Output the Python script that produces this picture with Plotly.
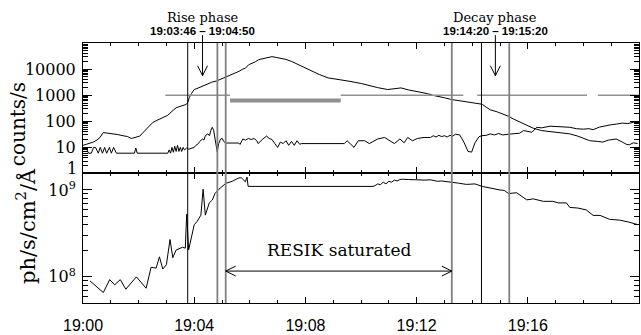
import plotly.graph_objects as go
from plotly.subplots import make_subplots

# ---------------------------------------------------------------
# Light curves, time in minutes after 19:00 UT
# ---------------------------------------------------------------

# Upper detector channel (counts/s)
t_high = [0.0, 0.2, 0.37, 0.5, 0.61, 0.73, 0.85, 1.0, 1.1, 1.25, 1.44, 1.6, 1.74,
          1.9, 2.04, 2.15, 2.27, 2.4, 2.51, 2.63, 2.75, 2.9, 3.05, 3.2, 3.35, 3.45,
          3.55, 3.7, 3.77, 3.82, 3.9, 4.0, 4.1, 4.2, 4.29, 4.4, 4.55, 4.65, 4.8,
          4.9, 5.01, 5.2, 5.37, 5.5, 5.61, 5.75, 5.85, 5.96, 6.1, 6.2, 6.32, 6.45,
          6.6, 6.8, 6.95, 7.15, 7.3, 7.51, 7.7, 7.87, 8.0, 8.22, 8.5, 8.82, 9.05,
          9.3, 9.6, 10.01, 10.3, 10.6, 10.96, 11.2, 11.44, 11.7, 11.92, 12.2,
          12.39, 12.6, 12.75, 13.0, 13.23, 13.5, 13.94, 14.2, 14.36, 14.5, 14.65,
          14.9, 15.1, 15.31, 15.5, 15.73, 16.0, 16.2, 16.5, 16.8, 17.1, 17.51,
          17.8, 18.0, 18.23, 18.5, 18.7, 18.9, 19.18, 19.4, 19.55, 19.65, 19.8, 19.95]
counts_high = [12, 14, 16, 19, 24, 37, 36, 35, 33, 31, 28, 26, 22,
               24, 27, 36, 50, 70, 90, 105, 120, 140, 170, 240, 330, 360,
               390, 440, 520, 800, 1150, 1650, 1800, 2000, 2200, 2500, 2900, 3200, 3500,
               3900, 4400, 5300, 6200, 7000, 8200, 10000, 11000, 14700, 17000, 19000, 23000, 25000,
               26000, 30000, 28000, 26000, 23500, 19500, 15500, 12600, 11000, 8100, 6200, 4600, 4200,
               4000, 3400, 2800, 2300, 1950, 1650, 1800, 1900, 1600, 1450, 1250,
               1150, 980, 930, 800, 690, 620, 550, 490, 450, 350, 275,
               230, 190, 155, 120, 91, 68, 54, 44, 40, 37, 33,
               27, 22, 18, 17, 16, 19, 21, 16, 13, 12.6, 15, 14]

# Lower detector channel (counts/s)
t_low = [0.0, 0.1, 0.2, 0.3, 0.38, 0.45, 0.55, 0.62, 0.7, 0.78, 0.85, 0.95, 1.02,
         1.1, 1.2, 1.85, 1.9, 1.95, 3.05, 3.1, 3.15, 3.2, 3.25, 3.3, 3.35, 3.4,
         3.45, 3.5, 3.55, 3.6, 3.65, 3.73, 3.8, 3.9, 4.0, 4.06, 4.15, 4.2, 4.3,
         4.35, 4.4, 4.49, 4.55, 4.6, 4.65, 4.7, 4.75, 4.8, 4.83, 4.88, 4.95, 5.01,
         5.06, 5.13, 5.6, 5.65, 5.75, 5.85, 5.95, 6.05, 6.15, 6.25, 6.3, 6.45, 6.6,
         6.7, 6.8, 6.9, 7.0, 7.1, 7.2, 7.3, 7.4, 7.5, 7.6, 7.7, 7.8, 7.85, 8.52,
         9.4, 9.5, 9.75, 9.9, 10.13, 10.3, 10.6, 10.85, 11.2, 11.4, 11.55, 11.68,
         11.85, 12.03, 12.27, 12.5, 12.6, 12.7, 12.8, 12.9, 13.0, 13.1, 13.2, 13.3,
         13.4, 13.55, 13.7, 13.85, 13.98, 14.1, 14.25, 14.35, 14.5, 14.65, 14.8,
         14.95, 15.1, 15.31, 15.5, 15.7, 15.85, 16.0, 16.15, 16.32, 16.5, 16.8,
         17.1, 17.3, 17.51, 17.75, 17.99, 18.2, 18.35, 18.58, 18.8, 19.0, 19.18,
         19.4, 19.6, 19.8, 19.95]
counts_low = [9, 10, 6, 6, 10, 10, 6, 10, 6, 10, 6, 10, 6,
              10, 6, 6, 9.5, 6, 6, 8, 6, 10, 6.5, 11, 7, 12,
              7, 10, 7, 10, 8, 9.5, 8.5, 9, 10, 12, 14, 17, 21,
              19, 28, 33, 28, 45, 59, 45, 21, 9, 6.6, 14, 21, 22,
              17, 14.7, 14.7, 13, 21, 19, 22, 20, 22, 18, 14, 20, 27,
              22, 20, 14, 10, 16, 14, 18, 12, 17, 12, 18, 13, 14, 14,
              14, 18, 10, 18, 18, 14, 21, 24, 14, 21, 15, 24,
              18, 22, 24, 24, 28, 25, 29, 26, 28, 25, 29, 27,
              32, 30, 16, 7, 6.6, 15, 26, 28, 29, 33, 30,
              34, 30, 32, 33, 35, 44, 40, 38, 59, 56, 65,
              62, 60, 59, 52, 50, 52, 48, 60, 68, 74, 78,
              85, 82, 92, 90]

# Spectrometer flux (ph/s/cm^2/A)
t_flux = [0.25, 0.73, 0.96, 1.14, 1.34, 1.54, 1.92, 2.27, 2.45, 2.63, 2.75, 2.87,
          3.0, 3.13, 3.23, 3.35, 3.58, 3.68, 3.73, 3.8, 4.0, 4.11, 4.24, 4.32, 4.4,
          4.54, 4.65, 4.75, 4.89, 5.0, 5.13, 5.37, 5.61, 5.7, 5.84, 5.9, 5.94,
          10.43, 10.5, 10.6, 10.7, 10.8, 10.9, 11.0, 11.1, 11.2, 11.3, 11.4, 11.5,
          11.7, 11.9, 12.1, 12.3, 12.5, 12.75, 12.9, 13.2, 13.5, 13.79, 14.1, 14.36,
          14.55, 14.77, 15.0, 15.15, 15.31, 15.6, 15.96, 16.2, 16.56, 16.9, 17.1,
          17.39, 17.51, 17.8, 18.1, 18.35, 18.6, 18.94, 19.3, 19.6, 19.95]
flux = [9.0e7, 6.6e7, 9.3e7, 8.1e7, 9.3e7, 7.2e7, 1.0e8, 7.4e7, 1.29e8, 1.26e8, 1.70e8, 1.23e8,
        1.38e8, 2.69e8, 1.66e8, 2.04e8, 2.19e8, 2.14e8, 5.25e8, 2.04e8, 3.98e8, 4.37e8, 5.13e8, 1.02e9, 5.13e8,
        7.08e8, 7.67e8, 9.12e8, 1.02e9, 1.10e9, 1.19e9, 1.26e9, 1.38e9, 1.38e9, 1.245e9, 1.41e9, 1.10e9,
        1.10e9, 1.12e9, 1.175e9, 1.15e9, 1.23e9, 1.175e9, 1.26e9, 1.23e9, 1.30e9, 1.27e9, 1.32e9, 1.33e9,
        1.32e9, 1.31e9, 1.32e9, 1.30e9, 1.31e9, 1.26e9, 1.27e9, 1.245e9, 1.20e9, 1.16e9, 1.175e9, 1.10e9,
        1.07e9, 1.02e9, 1.0e9, 9.9e8, 9.1e8, 9.3e8, 7.7e8, 7.9e8, 7.4e8, 7.4e8, 7.1e8,
        7.1e8, 6.3e8, 6.2e8, 5.9e8, 5.1e8, 5.1e8, 4.6e8, 4.5e8, 4.3e8, 4.0e8]

# Data-coverage bars drawn in the upper panel
cover_thin_t = [2.96, 5.29, None, 9.27, 13.68, None, 14.18, 18.13, None, 18.52, 20.0]
cover_thin_v = [1000, 1000, None, 1000, 1000, None, 1000, 1000, None, 1000, 1000]
cover_thick_t = [5.29, 9.27]
cover_thick_v = [620, 620]

# Interval boundaries
rise_start, rise_end = "19:03:46", "19:04:50"
sat_start, sat_end = "19:05:08", "19:13:16"
decay_start, decay_end = "19:14:20", "19:15:20"

# Axis labels
x_tickvals = [0, 4, 8, 12, 16]
x_ticktext = ["19:00", "19:04", "19:08", "19:12", "19:16"]
y1_tickvals = [1, 10, 100, 1000, 10000]
y1_ticktext = ["1", "10", "100", "1000", "10000"]
y2_tickvals = [1e8, 1e9]
y2_ticktext = ["10<sup>8</sup>", "10<sup>9</sup>"]


def minutes(hms):
    h, m, s = (int(p) for p in hms.split(":"))
    return (h - 19) * 60 + m + s / 60.0


SERIF = "DejaVu Serif"
SANS = "Liberation Sans"
GRAY = "#808080"

fig = make_subplots(rows=2, cols=1, shared_xaxes=True, vertical_spacing=0,
                    row_heights=[132, 131])

line_kw = dict(color="black", width=1)
fig.add_trace(go.Scatter(x=t_high, y=counts_high, mode="lines", line=line_kw), row=1, col=1)
fig.add_trace(go.Scatter(x=t_low, y=counts_low, mode="lines", line=line_kw), row=1, col=1)
fig.add_trace(go.Scatter(x=cover_thin_t, y=cover_thin_v, mode="lines",
                         line=dict(color="#909090", width=1.5), connectgaps=False), row=1, col=1)
fig.add_trace(go.Scatter(x=cover_thick_t, y=cover_thick_v, mode="lines",
                         line=dict(color="#909090", width=4)), row=1, col=1)
fig.add_trace(go.Scatter(x=t_flux, y=flux, mode="lines", line=line_kw), row=2, col=1)

# Vertical interval markers across both panels
markers = [(rise_start, "black", 1), (rise_end, GRAY, 1.8), (sat_start, GRAY, 1.8),
           (sat_end, GRAY, 1.8), (decay_start, "black", 1), (decay_end, GRAY, 1.8)]
shapes = []
for hms, col, w in markers:
    tm = minutes(hms)
    shapes.append(dict(type="line", xref="x", yref="paper", x0=tm, x1=tm, y0=0, y1=1,
                       line=dict(color=col, width=w)))


def paper_y(px):
    # convert a pixel row (from the top of the figure) into paper coordinates
    return (306 - px) / 263.0


def paper_x(px):
    return (px - 83) / 557.0


MIN_PER_PX = 20.0 / 557.0

# Downward arrows pointing at the rise and decay windows
annotations = []
for a, b, title in [(rise_start, rise_end, "Rise phase"), (decay_start, decay_end, "Decay phase")]:
    mid = (minutes(a) + minutes(b)) / 2
    tip = paper_y(76)
    shapes.append(dict(type="line", xref="x", yref="paper", x0=mid, x1=mid,
                       y0=paper_y(35), y1=tip, line=dict(color="black", width=1)))
    for s in (-1, 1):
        shapes.append(dict(type="line", xref="x", yref="paper",
                           x0=mid + s * 5 * MIN_PER_PX, y0=paper_y(66), x1=mid, y1=tip,
                           line=dict(color="black", width=1)))
    annotations.append(dict(text=title, x=mid, y=paper_y(17), xref="x", yref="paper",
                            showarrow=False, xanchor="center", yanchor="middle",
                            font=dict(family=SERIF, size=13, color="black")))
    annotations.append(dict(text=f"{a} \u2013 {b}", x=mid, y=paper_y(31), xref="x", yref="paper",
                            showarrow=False, xanchor="center", yanchor="middle",
                            font=dict(family="Liberation Sans", size=11.5, color="black",
                                      weight="bold")))

# Double-headed arrow spanning the saturated interval
s0, s1 = minutes(sat_start), minutes(sat_end)
ya = paper_y(273.7)
shapes.append(dict(type="line", xref="x", yref="paper", x0=s0, x1=s1, y0=ya, y1=ya,
                   line=dict(color="black", width=1)))
for x_tip, d in [(s0, 1), (s1, -1)]:
    for s in (-1, 1):
        shapes.append(dict(type="line", xref="x", yref="paper",
                           x0=x_tip + d * 10 * MIN_PER_PX, y0=ya + s * 5 / 263.0,
                           x1=x_tip, y1=ya, line=dict(color="black", width=1)))
annotations.append(dict(text="RESIK saturated", x=(s0 + s1) / 2, y=paper_y(252), xref="x",
                        yref="paper", showarrow=False, xanchor="center", yanchor="middle",
                        font=dict(family=SERIF, size=17, color="black")))

# Bottom label of the counts axis sits a little above its tick
annotations.append(dict(text=y1_ticktext[0], x=paper_x(79), y=paper_y(170), xref="paper",
                        yref="paper", showarrow=False, xanchor="right", yanchor="middle",
                        font=dict(family=SERIF, size=16, color="black")))
y1_labels = [""] + y1_ticktext[1:]

# Rotated axis titles
annotations.append(dict(text="counts/s", x=paper_x(18), y=paper_y(125), xref="paper",
                        yref="paper", showarrow=False, textangle=-90, xanchor="center",
                        yanchor="middle", font=dict(family=SERIF, size=20, color="black")))
annotations.append(dict(text="ph/s/cm<sup>2</sup>/\u00c5", x=paper_x(26), y=paper_y(228),
                        xref="paper", yref="paper", showarrow=False, textangle=-90,
                        xanchor="center", yanchor="middle",
                        font=dict(family=SERIF, size=21, color="black")))

axis_common = dict(showline=True, linecolor="black", linewidth=1, mirror="ticks",
                   showgrid=False, zeroline=False, ticks="inside", tickcolor="black")

x_common = dict(axis_common, range=[0, 20], tickmode="array", tickvals=x_tickvals,
                ticktext=x_ticktext, ticklen=6,
                minor=dict(dtick=1, tick0=0, ticks="inside", ticklen=3, tickcolor="black",
                           showgrid=False))
fig.update_xaxes(x_common)
fig.update_xaxes(showticklabels=False, row=1, col=1)
fig.update_xaxes(showticklabels=True, tickfont=dict(family=SANS, size=16, color="black"),
                 ticklabelstandoff=8, row=2, col=1)

minor_y1 = [m * 10 ** e for e in range(0, 5) for m in range(2, 10)]
minor_y2 = [m * 1e7 for m in range(5, 10)] + [m * 1e8 for m in range(2, 10)]

fig.update_yaxes(axis_common, type="log", range=[0, 5], tickmode="array",
                 tickvals=y1_tickvals, ticktext=y1_labels, ticklen=9,
                 tickfont=dict(family=SERIF, size=16, color="black"), ticklabelstandoff=3,
                 minor=dict(tickmode="array", tickvals=minor_y1, ticks="inside", ticklen=5,
                            tickcolor="black", showgrid=False),
                 row=1, col=1)
fig.update_yaxes(axis_common, type="log", range=[7.699, 9.19], tickmode="array",
                 tickvals=y2_tickvals, ticktext=y2_ticktext, ticklen=9,
                 tickfont=dict(family=SERIF, size=16, color="black"), ticklabelstandoff=3,
                 minor=dict(tickmode="array", tickvals=minor_y2, ticks="inside", ticklen=5,
                            tickcolor="black", showgrid=False),
                 row=2, col=1)

fig.update_layout(width=641, height=335, margin=dict(l=83, r=1, t=43, b=29),
                  paper_bgcolor="white", plot_bgcolor="white", showlegend=False,
                  shapes=shapes, annotations=annotations)

fig.write_html("out.html")
